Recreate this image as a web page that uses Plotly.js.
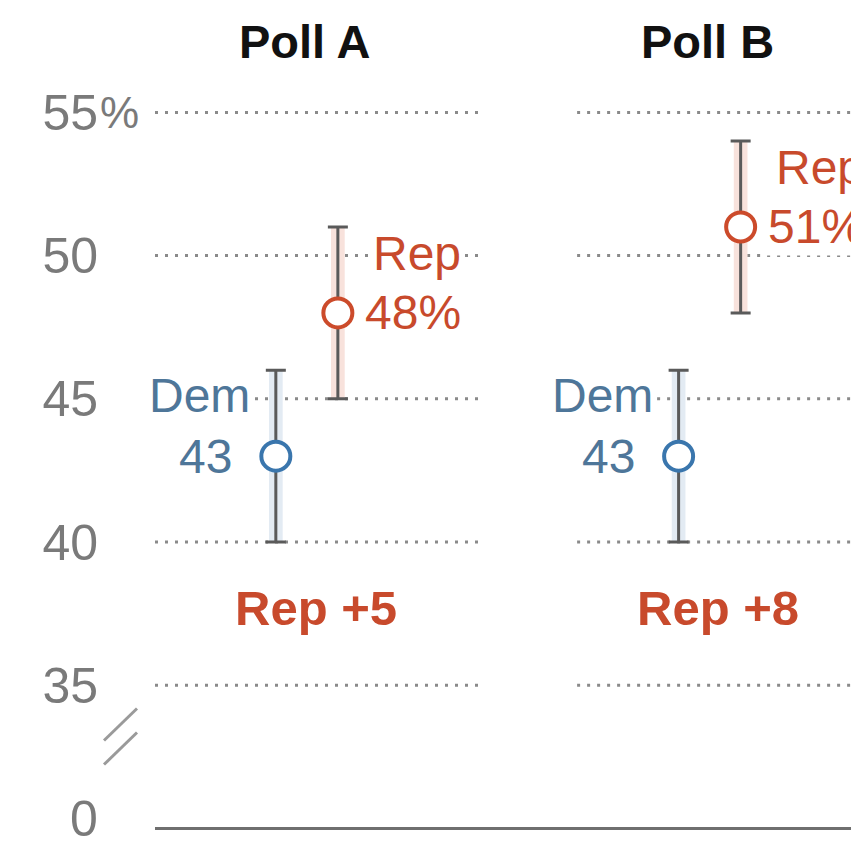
<!DOCTYPE html>
<html>
<head>
<meta charset="utf-8">
<script src="https://cdn.plot.ly/plotly-3.0.1.min.js"></script>
<style>html,body{margin:0;padding:0;background:#fff;}#chart{width:851px;height:842px;}</style>
</head>
<body>
<div id="chart"></div>
<script>
// ---- data ----
const polls = ["Poll A", "Poll B"];
const demValues = [43, 43];
const demLow = [40, 40];
const demHigh = [46, 46];
const repValues = [48, 51];
const repLow = [45, 48];
const repHigh = [51, 54];
const margins = ["Rep +5", "Rep +8"];
const tickValues = [30, 35, 40, 45, 50, 55];   // 30 is drawn as the broken-axis zero
const tickLabels = ["0", "35", "40", "45", "50", "55"];

// ---- style ----
const DEM_TXT = "#4e7699", DEM_RING = "#3a76ad", DEM_BAND = "#e3ebf3";
const REP_TXT = "#c84a2c", REP_RING = "#cc4b2b", REP_BAND = "#f8e2dc";
const GRID = "#8a8a8a", BAR = "#5a5a5a", TICK = "#7a7a7a";
const FONT = "Liberation Sans, Arial, sans-serif";
const OFF = 0.077;            // horizontal offset of Dem/Rep within a poll
const idx = polls.map((_, i) => i);
const demX = idx.map(i => i - OFF);
const repX = idx.map(i => i + OFF);
// panel gridline extents (x units, per poll)
const panelExtent = [[-0.377, 0.429], [0.671, 1.5]];

const traces = [
  {type: "bar", x: demX, base: demLow, y: demHigh.map((h, i) => h - demLow[i]),
   width: 0.034, marker: {color: DEM_BAND}, hoverinfo: "skip"},
  {type: "bar", x: repX, base: repLow, y: repHigh.map((h, i) => h - repLow[i]),
   width: 0.034, marker: {color: REP_BAND}, hoverinfo: "skip"},
  {type: "scatter", mode: "markers", x: demX, y: demValues,
   error_y: {type: "data", symmetric: false, array: demHigh.map((h, i) => h - demValues[i]),
             arrayminus: demValues.map((v, i) => v - demLow[i]), color: BAR, thickness: 3, width: 10},
   marker: {symbol: "circle", size: 29, color: "#fff", line: {color: DEM_RING, width: 4}}},
  {type: "scatter", mode: "markers", x: repX, y: repValues,
   error_y: {type: "data", symmetric: false, array: repHigh.map((h, i) => h - repValues[i]),
             arrayminus: repValues.map((v, i) => v - repLow[i]), color: BAR, thickness: 3, width: 10},
   marker: {symbol: "circle", size: 29, color: "#fff", line: {color: REP_RING, width: 4}}}
];

const shapes = [];
idx.forEach(i => {
  tickValues.slice(1).forEach(v => {
    shapes.push({type: "line", layer: "below", xref: "x", yref: "y",
      x0: panelExtent[i][0], x1: panelExtent[i][1], y0: v, y1: v,
      line: {color: GRID, width: 3, dash: "3px,7px"}});
  });
});
// zero baseline
shapes.push({type: "line", xref: "paper", yref: "y", x0: 0, x1: 1, y0: tickValues[0], y1: tickValues[0],
  line: {color: "#6f6f6f", width: 3}});
// axis break marks
const px = v => (v - 155) / 696;
shapes.push({type: "line", xref: "paper", yref: "paper", x0: px(104), x1: px(137),
  y0: (839.5 - 740) / 762, y1: (839.5 - 708) / 762, line: {color: "#9a9a9a", width: 3}});
shapes.push({type: "line", xref: "paper", yref: "paper", x0: px(104), x1: px(137),
  y0: (839.5 - 764) / 762, y1: (839.5 - 732) / 762, line: {color: "#9a9a9a", width: 3}});

const ann = [];
const txt = (o) => Object.assign({showarrow: false}, o);
const LBL = 48;
idx.forEach(i => {
  ann.push(txt({text: "<b>" + polls[i] + "</b>", xref: "x", yref: "paper", x: i - 0.006, y: 1.048,
    xanchor: "center", yanchor: "middle", font: {family: FONT, size: 47, color: "#111"}}));
  ann.push(txt({text: "<b>" + margins[i] + "</b>", xref: "x", yref: "y", x: i + 0.022, y: 37.7,
    xanchor: "center", yanchor: "middle", font: {family: FONT, size: 49, color: REP_TXT}}));
  ann.push(txt({text: "Rep", x: repX[i], y: repValues[i], xanchor: "left", yanchor: "middle",
    xshift: 32, yshift: 59, bgcolor: "#fff", borderpad: 2, font: {family: FONT, size: LBL, color: REP_TXT}}));
  ann.push(txt({text: repValues[i] + "%", x: repX[i], y: repValues[i], xanchor: "left", yanchor: "middle",
    xshift: 24, yshift: 0, bgcolor: "#fff", borderpad: 2, font: {family: FONT, size: LBL, color: REP_TXT}}));
  ann.push(txt({text: "Dem", x: demX[i], y: demValues[i], xanchor: "right", yanchor: "middle",
    xshift: -23, yshift: 61, bgcolor: "#fff", borderpad: 2, font: {family: FONT, size: LBL, color: DEM_TXT}}));
  ann.push(txt({text: String(demValues[i]), x: demX[i], y: demValues[i], xanchor: "right", yanchor: "middle",
    xshift: -42, yshift: 0, font: {family: FONT, size: LBL, color: DEM_TXT}}));
});
// zero label of the broken axis
ann.push(txt({text: tickLabels[0], xref: "paper", yref: "y", x: px(100), y: tickValues[0], xanchor: "right",
  yanchor: "middle", yshift: 10, font: {family: FONT, size: 50, color: TICK}}));
// percent sign hanging after top tick label
ann.push(txt({text: "%", xref: "paper", yref: "y", x: px(98), y: 55, xanchor: "left", yanchor: "middle",
  font: {family: FONT, size: 44, color: TICK}}));

const layout = {
  width: 851, height: 842,
  margin: {l: 155, r: 0, t: 78, b: 2, pad: 0},
  paper_bgcolor: "#fff", plot_bgcolor: "#fff",
  showlegend: false, barmode: "overlay",
  xaxis: {range: [-0.377, 1.351], showgrid: false, zeroline: false, showticklabels: false, ticks: "", fixedrange: true},
  yaxis: {range: [29.6, 56.2], tickvals: tickValues.slice(1), ticktext: tickLabels.slice(1), showgrid: false, zeroline: false,
    ticks: "", ticklabelstandoff: 56, tickfont: {family: FONT, size: 50, color: TICK}},
  shapes: shapes, annotations: ann, font: {family: FONT}
};
Plotly.newPlot("chart", traces, layout, {displayModeBar: false, staticPlot: true});
</script>
</body>
</html>
